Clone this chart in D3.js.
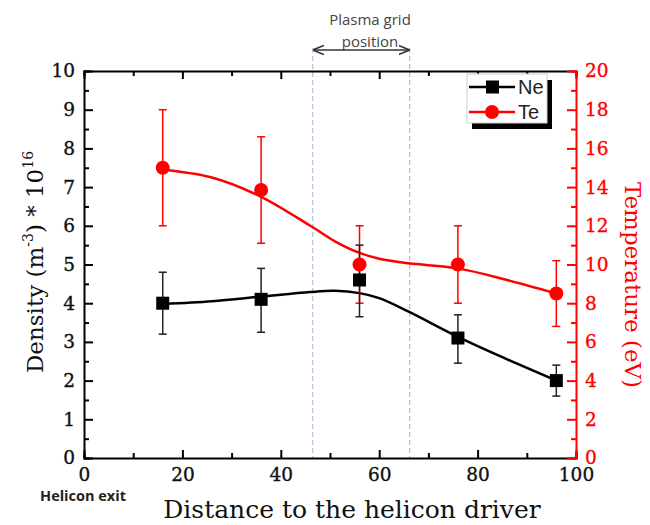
<html>
	<head>
		<meta charset="utf-8">
		<title>Density and temperature</title>
	</head>
	<style>
		body { margin: 0; background: #fff; }
		.tick-label { font-family: "DejaVu Serif", serif; font-size: 18.5px; stroke-width: 0.35px; }
		.title { font-family: "DejaVu Serif", serif; }
	</style>
	<body>
		<script src="https://cdn.jsdelivr.net/npm/d3@7"></script>
		<script>
			var width = 650;
			var height = 525;

			// measured points
			var distance = [16, 36, 56, 76, 96];
			var ne = [4.0, 4.1, 4.6, 3.1, 2.0];
			var neLow = [3.2, 3.25, 3.65, 2.45, 1.6];
			var neHigh = [4.8, 4.9, 5.5, 3.7, 2.4];
			var te = [15, 13.85, 10, 10, 8.5];
			var teLow = [12, 11.1, 8, 8, 6.8];
			var teHigh = [18, 16.6, 12, 12, 10.2];

			// smooth fit curves
			var fitX = [16, 26, 36, 46, 51, 56, 60, 66, 76, 86, 96];
			var neFit = [3.98, 4.05, 4.17, 4.29, 4.32, 4.26, 4.13, 3.78, 3.13, 2.55, 2.0];
			var teFit = [14.9, 14.5, 13.5, 12.0, 11.2, 10.6, 10.3, 10.06, 9.8, 9.2, 8.5];

			// plasma grid position
			var gridPos = [46.5, 66.2];

			var xTicks = [0, 20, 40, 60, 80, 100];
			var yLeftTicks = [0, 1, 2, 3, 4, 5, 6, 7, 8, 9, 10];
			var yRightTicks = [0, 2, 4, 6, 8, 10, 12, 14, 16, 18, 20];

			var red = "#ff0000";

			var svg = d3.select("body")
				.append("svg")
				.attr("width", width)
				.attr("height", height);

			var x = d3.scaleLinear().domain([0, 100]).range([84, 576]);
			var yL = d3.scaleLinear().domain([0, 10]).range([458, 71]);
			var yR = d3.scaleLinear().domain([0, 20]).range([458, 71]);

			// dashed lines for the grid
			svg.selectAll(".grid-line")
				.data(gridPos)
				.enter()
				.append("line")
				.attr("x1", function(d) { return x(d); })
				.attr("x2", function(d) { return x(d); })
				.attr("y1", 48)
				.attr("y2", yL(0))
				.attr("stroke", "#9db3cf")
				.attr("stroke-width", 1)
				.attr("stroke-dasharray", "5,3");

			// double arrow + label
			var defs = svg.append("defs");
			defs.append("marker")
				.attr("id", "arr")
				.attr("viewBox", "0 0 10 10")
				.attr("refX", 9).attr("refY", 5)
				.attr("markerWidth", 7).attr("markerHeight", 7)
				.attr("orient", "auto-start-reverse")
				.append("path")
				.attr("d", "M0,1 L10,5 L0,9")
				.attr("fill", "none")
				.attr("stroke", "#333")
				.attr("stroke-width", 1.5);
			svg.append("line")
				.attr("x1", x(gridPos[0]) + 1).attr("x2", x(gridPos[1]) - 1)
				.attr("y1", 50).attr("y2", 50)
				.attr("stroke", "#333").attr("stroke-width", 1.6)
				.attr("marker-start", "url(#arr)")
				.attr("marker-end", "url(#arr)");
			svg.append("text")
				.attr("x", 370).attr("y", 25)
				.attr("text-anchor", "middle")
				.attr("font-family", "Open Sans, sans-serif")
				.attr("font-size", 15)
				.attr("fill", "#444")
				.text("Plasma grid");
			svg.append("text")
				.attr("x", 370).attr("y", 46.5)
				.attr("text-anchor", "middle")
				.attr("font-family", "Open Sans, sans-serif")
				.attr("font-size", 15)
				.attr("fill", "#444")
				.text("position");

			// axes
			var bottomAxis = svg.append("g")
				.attr("transform", "translate(0," + yL(0) + ")")
				.call(d3.axisBottom(x).tickValues(d3.range(0, 101, 10)).tickSize(-5).tickFormat(""));
			bottomAxis.selectAll(".tick line").filter(function(d) { return d % 20 == 0; }).attr("y2", -8);
			svg.append("g")
				.attr("transform", "translate(0," + yL(0) + ")")
				.call(d3.axisBottom(x).tickValues(xTicks).tickSize(0).tickPadding(10))
				.call(function(g) { g.select(".domain").remove(); })
				.selectAll("text").attr("class", "tick-label").attr("fill", "#111").attr("stroke", "#111");

			var topAxis = svg.append("g")
				.attr("transform", "translate(0," + yL(10) + ")")
				.call(d3.axisTop(x).tickValues(d3.range(0, 101, 10)).tickSize(-5).tickFormat(""));
			topAxis.selectAll(".tick line").filter(function(d) { return d % 20 == 0; }).attr("y2", 8);

			var leftAxis = svg.append("g")
				.attr("transform", "translate(" + x(0) + ",0)")
				.call(d3.axisLeft(yL).tickValues(d3.range(0, 10.01, 0.5)).tickSize(-5).tickFormat(""));
			leftAxis.selectAll(".tick line").filter(function(d) { return d % 1 == 0; }).attr("x2", 9);
			svg.append("g")
				.attr("transform", "translate(" + x(0) + ",0)")
				.call(d3.axisLeft(yL).tickValues(yLeftTicks).tickSize(0).tickPadding(9))
				.call(function(g) { g.select(".domain").remove(); })
				.selectAll("text").attr("class", "tick-label").attr("fill", "#111").attr("stroke", "#111");

			var rightAxis = svg.append("g")
				.attr("transform", "translate(" + x(100) + ",0)")
				.call(d3.axisRight(yR).tickValues(d3.range(0, 21, 1)).tickSize(-5).tickFormat(""));
			rightAxis.selectAll(".tick line").filter(function(d) { return d % 2 == 0; }).attr("x2", -9);
			rightAxis.selectAll(".tick line").attr("stroke", red);
			rightAxis.select(".domain").attr("stroke", red);
			svg.append("g")
				.attr("transform", "translate(" + x(100) + ",0)")
				.call(d3.axisRight(yR).tickValues(yRightTicks).tickSize(0).tickPadding(9))
				.call(function(g) { g.select(".domain").remove(); })
				.selectAll("text").attr("class", "tick-label").attr("fill", red).attr("stroke", red);

			svg.selectAll(".domain").attr("stroke-width", 2);
			svg.selectAll(".tick line").attr("stroke-width", 2);

			// fit curves
			var neLine = d3.line()
				.x(function(d, i) { return x(fitX[i]); })
				.y(function(d) { return yL(d); })
				.curve(d3.curveCatmullRom);
			var teLine = d3.line()
				.x(function(d, i) { return x(fitX[i]); })
				.y(function(d) { return yR(d); })
				.curve(d3.curveCatmullRom);
			svg.append("path").attr("d", teLine(teFit))
				.attr("fill", "none").attr("stroke", red).attr("stroke-width", 2.5);
			svg.append("path").attr("d", neLine(neFit))
				.attr("fill", "none").attr("stroke", "#000").attr("stroke-width", 2.5);

			// error bars
			function errorBars(low, high, scale, color) {
				var g = svg.append("g").attr("stroke", color).attr("stroke-width", 1.5);
				distance.forEach(function(d, i) {
					g.append("line")
						.attr("x1", x(d)).attr("x2", x(d))
						.attr("y1", scale(low[i])).attr("y2", scale(high[i]));
					[low[i], high[i]].forEach(function(v) {
						g.append("line")
							.attr("x1", x(d) - 4).attr("x2", x(d) + 4)
							.attr("y1", scale(v)).attr("y2", scale(v));
					});
				});
			}
			errorBars(teLow, teHigh, yR, red);
			errorBars(neLow, neHigh, yL, "#222");

			// markers
			svg.selectAll(".te-dot")
				.data(te)
				.enter()
				.append("circle")
				.attr("cx", function(d, i) { return x(distance[i]); })
				.attr("cy", function(d) { return yR(d); })
				.attr("r", 7)
				.attr("fill", red);
			svg.selectAll(".ne-dot")
				.data(ne)
				.enter()
				.append("rect")
				.attr("x", function(d, i) { return x(distance[i]) - 6.5; })
				.attr("y", function(d) { return yL(d) - 6.5; })
				.attr("width", 13).attr("height", 13)
				.attr("fill", "#000");

			// legend
			var lg = svg.append("g");
			lg.append("rect").attr("x", 472).attr("y", 80).attr("width", 80).attr("height", 49).attr("fill", "#000");
			lg.append("rect").attr("x", 467).attr("y", 74).attr("width", 80).attr("height", 49)
				.attr("fill", "#fff").attr("stroke", "#ccc").attr("stroke-width", 1);
			var entries = [{name: "Ne", color: "#000", y: 87}, {name: "Te", color: red, y: 112}];
			entries.forEach(function(e, i) {
				lg.append("line").attr("x1", 469).attr("x2", 515).attr("y1", e.y).attr("y2", e.y)
					.attr("stroke", e.color).attr("stroke-width", 2.5);
				if (i == 0) {
					lg.append("rect").attr("x", 486).attr("y", e.y - 6.5).attr("width", 13).attr("height", 13).attr("fill", e.color);
				} else {
					lg.append("circle").attr("cx", 492).attr("cy", e.y).attr("r", 7).attr("fill", e.color);
				}
				lg.append("text").attr("x", 518).attr("y", e.y + 7)
					.attr("font-family", "Liberation Sans, Arial, sans-serif")
					.attr("font-size", 20).attr("fill", "#222")
					.text(e.name);
			});

			// titles
			svg.append("text")
				.attr("class", "title")
				.attr("x", 352).attr("y", 518)
				.attr("text-anchor", "middle")
				.attr("font-size", 25)
				.attr("fill", "#111")
				.text("Distance to the helicon driver");

			var yt = svg.append("text")
				.attr("class", "title")
				.attr("transform", "translate(43,262) rotate(-90)")
				.attr("text-anchor", "middle")
				.attr("font-size", 23)
				.attr("fill", "#111");
			yt.append("tspan").text("Density (m");
			yt.append("tspan").attr("font-size", 14).attr("dy", -10).text("-3");
			yt.append("tspan").attr("dy", 10).text(") * 10");
			yt.append("tspan").attr("font-size", 14).attr("dy", -10).text("16");

			svg.append("text")
				.attr("class", "title")
				.attr("transform", "translate(625,285) rotate(90)")
				.attr("text-anchor", "middle")
				.attr("font-size", 23)
				.attr("fill", red)
				.text("Temperature (eV)");

			svg.append("text")
				.attr("x", 83).attr("y", 501)
				.attr("text-anchor", "middle")
				.attr("font-family", "Open Sans, sans-serif")
				.attr("font-weight", "bold")
				.attr("font-size", 14.5)
				.attr("fill", "#222")
				.text("Helicon exit");
		</script>
	</body>
</html>
